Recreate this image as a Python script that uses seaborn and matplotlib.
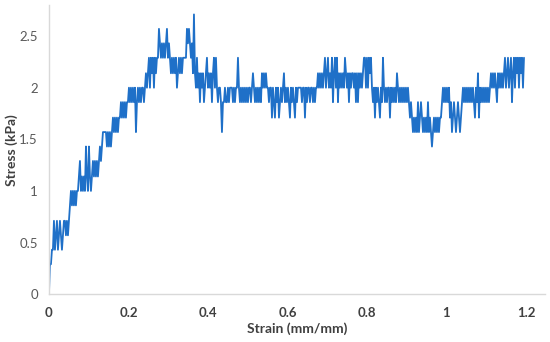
import numpy as np
import pandas as pd
import seaborn as sns
import matplotlib.pyplot as plt

# stress readings (kPa), split by strain region
stress_toe = [0, 0.29, 0.29, 0.43, 0.43, 0.71, 0.43, 0.57, 0.71, 0.43,
              0.57, 0.71, 0.57, 0.43, 0.57, 0.71, 0.71, 0.57, 0.71, 0.57,
              0.71, 0.86, 1.0, 0.86, 1.0, 0.86, 1.0, 0.86, 1.0, 1.0,
              1.14, 1.29, 1.0, 1.14, 1.0, 1.14, 1.0, 1.43, 1.14, 1.0,
              1.43, 1.14, 1.0, 1.14, 1.29, 1.14, 1.29, 1.14, 1.29, 1.14,
              1.29, 1.43, 1.29, 1.43, 1.57, 1.57, 1.57, 1.57, 1.43, 1.57,
              1.43, 1.57, 1.43, 1.57, 1.71, 1.57, 1.71, 1.57, 1.71, 1.57,
              1.71, 1.71, 1.86, 1.71, 1.86, 1.71]
stress_peak = [1.86, 1.71, 1.86, 1.86, 2.0, 1.86, 2.0, 1.86, 2.0, 1.86,
               2.0, 1.57, 1.86, 2.0, 1.86, 2.0, 1.86, 2.0, 2.0, 1.86,
               2.0, 2.14, 2.0, 2.14, 2.29, 2.0, 2.29, 2.14, 2.29, 2.0,
               2.29, 2.14, 2.29, 2.29, 2.57, 2.43, 2.29, 2.43, 2.29, 2.43,
               2.29, 2.43, 2.57, 2.29, 2.43, 2.29, 2.14, 2.29, 2.14, 2.29,
               2.14, 2.29, 2.0, 2.14, 2.29, 2.14, 2.29, 2.14, 2.29, 2.29,
               2.29, 2.29, 2.57, 2.43, 2.57, 2.43, 2.29, 2.43, 2.14, 2.71,
               2.14, 2.0, 2.29, 2.0, 2.14, 1.86, 2.14, 2.0, 2.14, 1.86, 2.0, 2.14]
stress_mid1 = [2.29, 2.0, 2.14, 2.0, 2.14, 1.86, 2.14, 2.29, 2.0, 2.29,
               2.0, 1.86, 2.0, 2.0, 1.86, 1.57, 1.86, 1.86, 2.0, 1.86,
               1.86, 2.0, 1.86, 2.0, 2.0, 2.0, 1.86, 2.0, 1.86, 2.0,
               2.0, 2.29, 2.0, 1.86, 2.0, 1.86, 2.0, 1.86, 2.0, 1.86,
               2.0, 1.86, 2.0, 2.0, 1.86, 2.0, 2.14, 2.0, 1.86, 2.0,
               1.86, 2.0, 1.86, 2.0, 1.86, 2.14, 2.0, 2.14, 2.0, 2.14,
               2.0, 2.0, 1.86, 2.0, 2.0, 1.71, 2.0, 1.86, 1.71, 2.0,
               1.86, 2.0, 1.71, 1.86, 2.0, 1.86, 2.0, 2.14, 1.86, 2.0]
stress_mid2 = [1.86, 2.0, 1.86, 1.71, 2.0, 1.86, 2.0, 1.86, 1.71, 2.0,
               1.86, 2.0, 2.0, 2.0, 2.0, 1.86, 2.0, 2.0, 1.71, 2.0,
               1.86, 2.0, 2.0, 1.86, 2.0, 2.0, 1.86, 2.0, 1.86, 2.0,
               2.0, 2.14, 2.0, 2.14, 2.0, 2.14, 2.0, 2.14, 2.29, 2.0,
               2.14, 2.29, 2.0, 2.14, 2.0, 2.29, 1.86, 2.14, 2.29, 2.0,
               2.29, 1.86, 2.14, 2.0, 2.14, 2.0, 2.14, 2.0, 2.29, 2.14,
               2.0, 2.14, 1.86, 2.14, 2.0, 2.14, 2.14, 2.0, 2.14, 1.86,
               2.14, 1.86, 2.14, 2.0, 2.14, 2.0, 2.14, 2.29, 2.29, 2.0]
stress_dip = [2.29, 2.0, 2.29, 2.14, 2.29, 2.0, 1.86, 2.0, 1.71, 2.0,
              1.86, 2.0, 1.86, 1.71, 2.0, 1.86, 2.29, 2.0, 1.86, 2.0,
              1.86, 2.0, 2.0, 1.71, 2.0, 1.86, 2.0, 1.86, 2.0, 1.86,
              2.14, 2.0, 1.86, 2.0, 1.86, 2.0, 1.86, 2.0, 1.86, 2.0,
              1.86, 2.0, 1.86, 1.71, 1.86, 1.71, 1.57, 1.71, 1.57, 1.71,
              1.57, 1.86, 1.57, 1.71, 1.86, 1.71, 1.57, 1.71, 1.57, 1.71,
              1.57, 1.86, 1.57, 1.71, 1.57, 1.43, 1.57, 1.71, 1.57, 1.71,
              1.57, 1.71, 1.57, 1.71, 1.71, 1.86, 2.0, 1.86, 2.0, 1.86]
stress_end = [2.0, 1.86, 2.0, 1.71, 1.86, 1.57, 1.71, 1.86, 1.71, 1.57,
              1.71, 1.86, 1.71, 1.57, 1.71, 1.86, 2.0, 1.86, 2.0, 1.86,
              2.0, 1.86, 2.0, 1.86, 2.0, 1.86, 2.0, 1.86, 1.71, 2.0,
              1.86, 2.14, 1.71, 2.0, 1.86, 2.0, 1.86, 2.0, 1.86, 2.0,
              1.86, 2.0, 1.86, 2.0, 2.14, 2.0, 2.14, 2.0, 2.14, 2.0,
              1.86, 2.14, 2.0, 2.14, 2.0, 2.14, 2.0, 2.14, 2.29, 2.0,
              2.14, 2.29, 2.0, 2.14, 2.29, 1.86, 2.14, 2.29, 2.0, 2.29,
              2.14, 2.29, 2.0, 2.29, 2.14, 2.29, 2.0, 2.29]

strain_start, strain_end = 0.0, 1.195

x_ticks = [0, 0.2, 0.4, 0.6, 0.8, 1, 1.2]
x_labels = ["0", "0.2", "0.4", "0.6", "0.8", "1", "1.2"]
y_ticks = [0, 0.5, 1, 1.5, 2, 2.5]
y_labels = ["0", "0.5", "1", "1.5", "2", "2.5"]

stress = (stress_toe + stress_peak + stress_mid1 + stress_mid2
          + stress_dip + stress_end)
strain = np.linspace(strain_start, strain_end, len(stress))
df = pd.DataFrame({"Strain": strain, "Stress": stress})

sns.set_style("white")
plt.rcParams["font.family"] = ["Lato", "DejaVu Sans"]

fig = plt.figure(figsize=(5.5, 3.42), dpi=100)
ax = fig.add_axes([0.089, 0.14, 0.902, 0.845])
sns.lineplot(data=df, x="Strain", y="Stress", ax=ax, color="#1f70c8",
             linewidth=1.3, estimator=None, sort=False)

ax.set_xlim(0, 1.248)
ax.set_ylim(0, 2.8)
ax.set_xticks(x_ticks)
ax.set_xticklabels(x_labels, fontsize=9.5, fontweight="bold", color="#404040")
ax.set_yticks(y_ticks)
ax.set_yticklabels(y_labels, fontsize=9.5, color="#595959")
ax.tick_params(axis="both", length=0)
ax.tick_params(axis="x", pad=9)
ax.tick_params(axis="y", pad=8)
ax.set_xlabel("Strain (mm/mm)", fontsize=10, fontweight="bold", color="#404040", labelpad=3)
ax.set_ylabel("Stress (kPa)", fontsize=10, fontweight="bold", color="#404040", labelpad=1)

sns.despine(ax=ax)
for side in ["left", "bottom"]:
    ax.spines[side].set_color("#d9d9d9")
    ax.spines[side].set_linewidth(1)

fig.savefig("out.png", dpi=100)
